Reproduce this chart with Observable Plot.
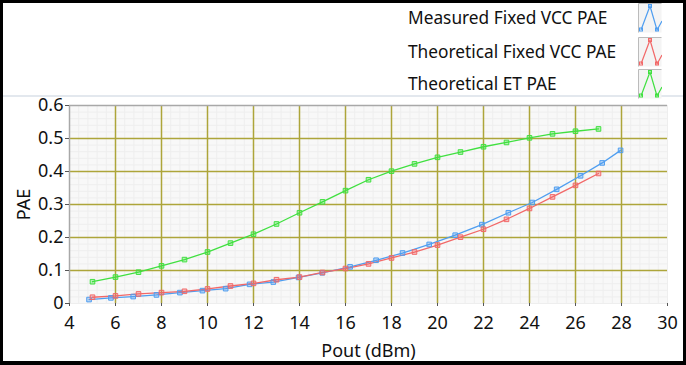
<!DOCTYPE html>
<html><head><meta charset="utf-8">
<script src="https://cdn.jsdelivr.net/npm/d3@7"></script>
<script src="https://cdn.jsdelivr.net/npm/@observablehq/plot@0.6"></script>
<style>
body{margin:0;background:#000;font-family:"Noto Sans","Open Sans",sans-serif;}
#frame{position:absolute;left:0;top:0;width:686px;height:365px;background:#000;overflow:hidden;}
#inner{position:absolute;left:3px;top:3px;width:680px;height:358px;background:#fff;}
#sep{position:absolute;left:3px;top:95px;width:680px;height:2px;background:#e3e8ee;}
.lg{position:absolute;left:408px;font-size:17.3px;line-height:20px;color:#111;white-space:nowrap;}
.ic{position:absolute;left:638px;width:24px;height:30px;}
#chart{position:absolute;left:3px;top:86px;}
</style></head>
<body>
<div id="frame">
<div id="inner"></div>
<div id="sep"></div>
<div id="legend"></div>
<div id="chart"></div>
</div>
<script>
const seriesNames = ["Measured Fixed VCC PAE","Theoretical Fixed VCC PAE","Theoretical ET PAE"];
const seriesColors = ["#4f9ef0","#f26868","#40e040"];

const measuredX = [4.85,5.8,6.77,7.78,8.8,9.78,10.79,11.83,12.86,13.96,14.99,16.2,17.33,18.48,19.64,20.77,21.93,23.08,24.12,25.18,26.22,27.16,27.96];
const measuredY = [0.012,0.017,0.021,0.026,0.033,0.039,0.045,0.058,0.065,0.079,0.093,0.111,0.131,0.153,0.179,0.207,0.239,0.275,0.306,0.346,0.387,0.426,0.464];

const theoX = [5,6,7,8,9,10,11,12,13,14,15,16,17,18,19,20,21,22,23,24,25,26,27];
const theoFixedY = [0.019,0.023,0.029,0.033,0.037,0.044,0.053,0.061,0.072,0.080,0.094,0.106,0.120,0.138,0.156,0.177,0.201,0.225,0.255,0.288,0.323,0.358,0.394];
const theoETY = [0.066,0.080,0.095,0.114,0.133,0.156,0.183,0.210,0.241,0.275,0.308,0.342,0.375,0.401,0.423,0.443,0.459,0.475,0.488,0.502,0.514,0.522,0.529];

const xTicks = [4,6,8,10,12,14,16,18,20,22,24,26,28,30];
const yTicks = [0,0.1,0.2,0.3,0.4,0.5,0.6];
const yTickLabels = ["0","0.1","0.2","0.3","0.4","0.5","0.6"];

const data = [];
measuredX.forEach((x,i)=>data.push({s:seriesNames[0],x,y:measuredY[i]}));
theoX.forEach((x,i)=>data.push({s:seriesNames[1],x,y:theoFixedY[i]}));
theoX.forEach((x,i)=>data.push({s:seriesNames[2],x,y:theoETY[i]}));

// legend
const legend = document.getElementById("legend");
const rowTops = [8,42,74];
seriesNames.forEach((n,i)=>{
  const t = document.createElement("div");
  t.className="lg"; t.style.top=rowTops[i]+"px"; t.textContent=n;
  legend.appendChild(t);
  const c = seriesColors[i];
  const ic = document.createElement("div");
  ic.className="ic"; ic.style.top=(rowTops[i]-5)+"px";
  ic.innerHTML = `<svg width="24" height="30"><rect x="0.5" y="0.5" width="23" height="29" fill="#f4f4f4" stroke="none"/>
  <path d="M0.5 29.5V0.5H23.5" fill="none" stroke="#bbb"/>
  <polyline points="3,27 12,3 19,27 24,18" fill="none" stroke="${c}" stroke-width="1.2"/>
  <rect x="1.5" y="25" width="3" height="3" fill="none" stroke="${c}"/>
  <rect x="10.5" y="1.5" width="3" height="3" fill="none" stroke="${c}"/>
  <rect x="17.5" y="25" width="3" height="3" fill="none" stroke="${c}"/></svg>`;
  legend.appendChild(ic);
});

const minorX = d3.range(4, 30.001, 0.4);
const minorY = d3.range(0, 0.6001, 0.02);

const chart = Plot.plot({
  width: 680, height: 274,
  marginLeft: 66, marginRight: 16, marginTop: 19, marginBottom: 57,
  style: {fontFamily: '"Noto Sans","Open Sans",sans-serif', fontSize: "18px", color: "#111", background: "transparent"},
  x: {domain: [4,30], ticks: xTicks, label: "Pout (dBm)"},
  y: {domain: [0,0.6], ticks: yTicks, label: "PAE"},
  color: {domain: seriesNames, range: seriesColors},
  marks: [
    Plot.frame({fill: "#f8f8f8", stroke: "none"}),
    Plot.ruleX(minorX, {stroke: "#eeeeee", strokeWidth: 1}),
    Plot.ruleY(minorY, {stroke: "#eeeeee", strokeWidth: 1}),
    Plot.ruleX(xTicks.slice(1,-1), {stroke: "#ada53a", strokeWidth: 1.5}),
    Plot.ruleY(yTicks.slice(1,-1), {stroke: "#ada53a", strokeWidth: 1.5}),
    Plot.ruleY([0.6], {stroke: "#a8a8a8", strokeWidth: 1.5}),
    Plot.ruleX([4], {stroke: "#a8a8a8", strokeWidth: 1.5}),
    Plot.axisX({ticks: xTicks, tickSize: 3, tickPadding: 10, fontSize: 18, stroke: "#555", label: "Pout (dBm)", labelAnchor: "center", labelOffset: 53, labelArrow: "none"}),
    Plot.axisY({ticks: yTicks, tickFormat: (d,i) => yTickLabels[i], tickSize: 4, tickPadding: 2, fontSize: 18, stroke: "#555", label: "PAE", labelAnchor: "center", labelOffset: 52, labelArrow: "none"}),
    Plot.line(data, {x: "x", y: "y", z: "s", stroke: "s", strokeWidth: 1.3}),
    Plot.dot(data, {x: "x", y: "y", stroke: "s", fill: "s", fillOpacity: 0.35, symbol: "square", r: 2.6, strokeWidth: 1})
  ]
});
document.getElementById("chart").appendChild(chart);
</script>
</body></html>
